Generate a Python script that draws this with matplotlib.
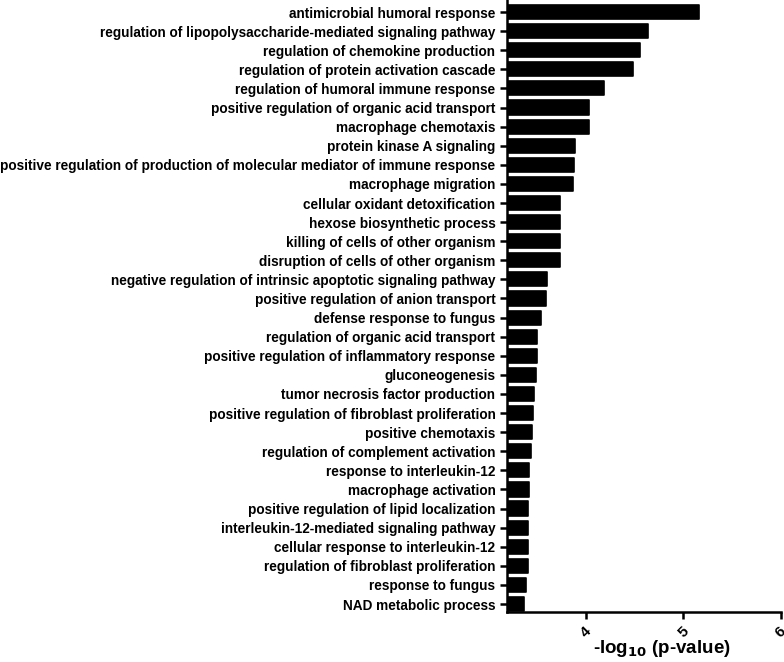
import matplotlib
matplotlib.use("Agg")
import matplotlib.pyplot as plt

plt.rcParams["font.family"] = ["Liberation Sans", "DejaVu Sans"]
plt.rcParams["font.weight"] = "bold"

terms = [
	"antimicrobial humoral response",
	"regulation of lipopolysaccharide-mediated signaling pathway",
	"regulation of chemokine production",
	"regulation of protein activation cascade",
	"regulation of humoral immune response",
	"positive regulation of organic acid transport",
	"macrophage chemotaxis",
	"protein kinase A signaling",
	"positive regulation of production of molecular mediator of immune response",
	"macrophage migration",
	"cellular oxidant detoxification",
	"hexose biosynthetic process",
	"killing of cells of other organism",
	"disruption of cells of other organism",
	"negative regulation of intrinsic apoptotic signaling pathway",
	"positive regulation of anion transport",
	"defense response to fungus",
	"regulation of organic acid transport",
	"positive regulation of inflammatory response",
	"gluconeogenesis",
	"tumor necrosis factor production",
	"positive regulation of fibroblast proliferation",
	"positive chemotaxis",
	"regulation of complement activation",
	"response to interleukin-12",
	"macrophage activation",
	"positive regulation of lipid localization",
	"interleukin-12-mediated signaling pathway",
	"cellular response to interleukin-12",
	"regulation of fibroblast proliferation",
	"response to fungus",
	"NAD metabolic process",
]
neglog_p = [
	5.16, 4.64, 4.56, 4.48, 4.19, 4.03, 4.03, 3.89, 3.88, 3.87,
	3.74, 3.74, 3.74, 3.74, 3.60, 3.59, 3.54, 3.50, 3.50, 3.49,
	3.47, 3.46, 3.45, 3.44, 3.42, 3.42, 3.41, 3.41, 3.41, 3.41,
	3.39, 3.37,
]
x_ticks = [4, 5, 6]

fig = plt.figure(figsize=(7.84, 6.62), dpi=100)
ax = fig.add_axes([0.647, 0.076, 0.349, 0.924])

base = 3.195
ypos = list(range(len(terms)))
ax.barh(ypos, [v - base for v in neglog_p], left=base, height=0.74,
	color="black", edgecolor="black", linewidth=1.2, joinstyle="round")

ax.set_xlim(base, 6)
ax.set_ylim(len(terms) - 1 + 0.4, -0.63)
ax.set_yticks(ypos)
ax.set_yticklabels(terms, fontsize=9.8, fontweight="bold")
ax.set_xticks(x_ticks)
ax.set_xticklabels([str(t) for t in x_ticks], rotation=45, fontsize=11,
	fontweight="bold", ha="center", va="top")
ax.set_xlabel("-log$_{\\mathbf{10}}$ (p-value)", fontsize=13.5, fontweight="bold")
ax.xaxis.set_label_coords(0.565, -0.043)

for s in ["top", "right"]:
	ax.spines[s].set_visible(False)
for s in ["left", "bottom"]:
	ax.spines[s].set_linewidth(1.8)
ax.tick_params(axis="both", width=1.8, length=5, direction="out")
ax.tick_params(axis="x", pad=4)

fig.savefig("out.png", dpi=100)
